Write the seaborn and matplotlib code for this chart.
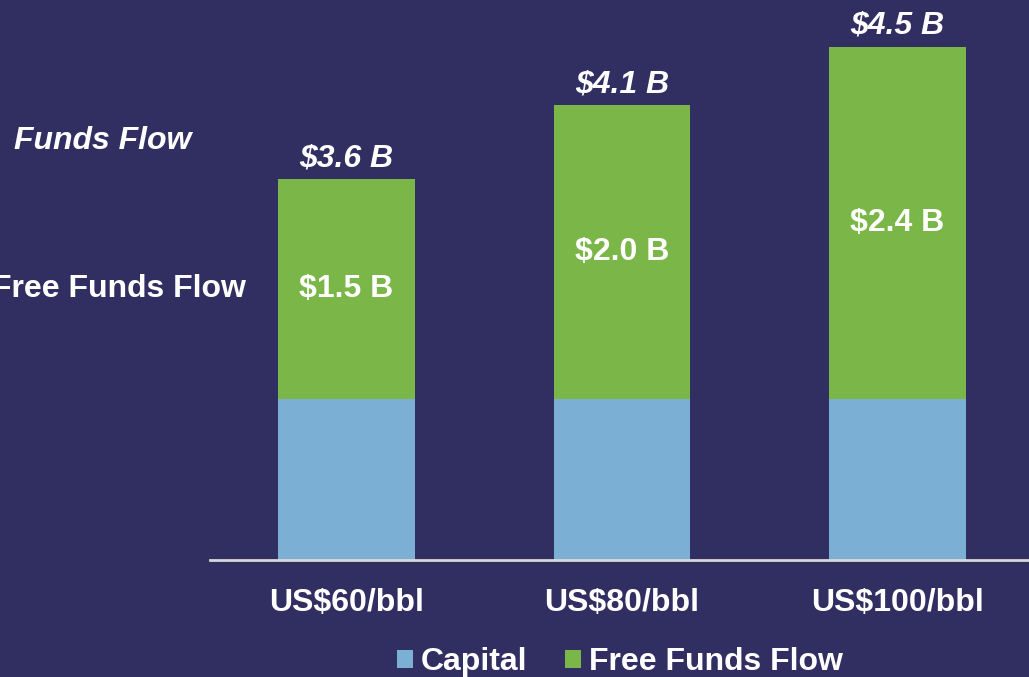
import matplotlib
matplotlib.use("Agg")
import matplotlib.pyplot as plt
from matplotlib.patches import Patch
import seaborn as sns
import pandas as pd

categories = ["US$60/bbl", "US$80/bbl", "US$100/bbl"]
capital = [1.1, 1.1, 1.1]          # drawn height of the capital segment
free_funds_flow = [1.5, 2.0, 2.4]
totals = [3.6, 4.1, 4.5]

BG = "#312F62"
BLUE = "#7BAFD4"
GREEN = "#7AB648"
FS = 23

sns.set_theme(style="white")
plt.rcParams["font.family"] = ["Liberation Sans", "DejaVu Sans"]

df = pd.DataFrame({
    "cat": categories,
    "capital": capital,
    "fff": free_funds_flow,
})
df["stack"] = df["capital"] + df["fff"]

W, H = 1029, 677
fig = plt.figure(figsize=(W / 100, H / 100), dpi=100, facecolor=BG)
ax = fig.add_axes([210 / W, 117 / H, (W - 210) / W, 560 / H])
ax.set_facecolor(BG)

sns.barplot(data=df, x="cat", y="stack", color=GREEN, width=0.497,
            saturation=1, ax=ax, edgecolor="none")
sns.barplot(data=df, x="cat", y="capital", color=BLUE, width=0.497,
            saturation=1, ax=ax, edgecolor="none")

ax.set_xlim(-0.495, 2.477)
ax.set_ylim(0, 3.817)
for s in ["top", "right", "left"]:
    ax.spines[s].set_visible(False)
ax.spines["bottom"].set_color("#D8D8D8")
ax.spines["bottom"].set_linewidth(2)
ax.set_yticks([])
ax.set_xlabel("")
ax.set_ylabel("")
ax.tick_params(axis="x", length=0, pad=20)
for lbl in ax.get_xticklabels():
    lbl.set_fontsize(FS)
    lbl.set_fontweight("bold")
    lbl.set_color("white")

for i in range(len(categories)):
    top = capital[i] + free_funds_flow[i]
    ax.text(i, top + 0.14, f"${totals[i]:.1f} B", ha="center", va="center",
            fontsize=FS, fontweight="bold", fontstyle="italic", color="white")
    ax.text(i, capital[i] + free_funds_flow[i] / 2, f"${free_funds_flow[i]:.1f} B",
            ha="center", va="center", fontsize=FS, fontweight="bold",
            color="white")

fig.text(14 / W, 1 - 141 / H, "Funds Flow", ha="left", va="center",
         fontsize=FS, fontweight="bold", fontstyle="italic", color="white")
fig.text(246 / W, 1 - 289 / H, "Free Funds Flow", ha="right", va="center",
         fontsize=FS, fontweight="bold", color="white")

handles = [Patch(facecolor=BLUE, edgecolor="none", label="Capital"),
           Patch(facecolor=GREEN, edgecolor="none", label="Free Funds Flow")]
leg = fig.legend(handles=handles, loc="center", bbox_to_anchor=(620 / W, 15 / H),
                 ncol=2, frameon=False, handlelength=0.5, handleheight=0.5,
                 handletextpad=0.25, columnspacing=1.2,
                 prop={"size": FS, "weight": "bold"})
for t in leg.get_texts():
    t.set_color("white")

fig.savefig("out.png", dpi=100, facecolor=BG)
